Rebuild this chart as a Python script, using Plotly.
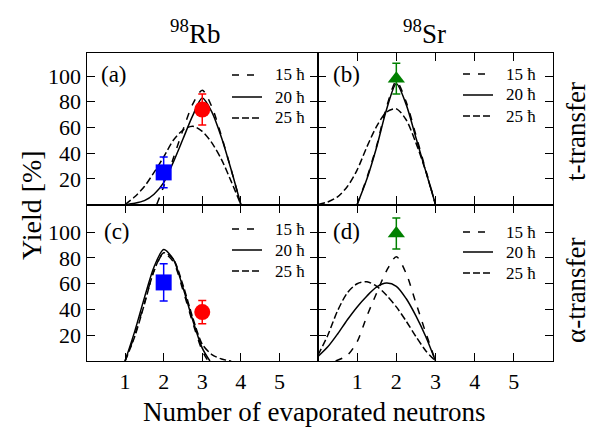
import plotly.graph_objects as go

FONT = "Liberation Serif"
W, H = 595, 430

# ---------------- data ----------------
# Spin labels of the calculated curves
spins = ["15 ħ", "20 ħ", "25 ħ"]

# (a) 98Rb, t-transfer : calculated yields [%] vs number of evaporated neutrons
a_x15 = [1.82, 2.0, 2.25, 2.5, 2.75, 3.0, 3.25, 3.5, 3.75, 4.0]
a_y15 = [0, 14, 36, 58, 78, 89, 76, 53, 27, 0]
a_x20 = [1.0, 1.25, 1.5, 1.75, 2.0, 2.25, 2.5, 2.75, 3.0, 3.25, 3.5, 3.75, 4.0]
a_y20 = [0, 1, 3, 8, 17, 33, 51, 69, 83, 72, 52, 27, 0]
a_x25 = [1.0, 1.25, 1.5, 1.75, 2.0, 2.25, 2.5, 2.75, 3.0, 3.25, 3.5, 3.75, 4.0]
a_y25 = [0, 6, 14, 25, 37, 50, 58, 61, 57, 48, 35, 18, 0]

# (b) 98Sr, t-transfer
b_x15 = [1.0, 1.25, 1.5, 1.75, 2.0, 2.25, 2.5, 2.75, 3.0]
b_y15 = [0, 21, 46, 76, 96, 80, 54, 27, 0]
b_x20 = [1.0, 1.25, 1.5, 1.75, 2.0, 2.25, 2.5, 2.75, 3.0]
b_y20 = [0, 20, 45, 74, 94, 78, 52, 26, 0]
b_x25 = [0.0, 0.25, 0.5, 0.75, 1.0, 1.25, 1.5, 1.75, 2.0, 2.25, 2.5, 2.75, 3.0]
b_y25 = [0, 2, 6, 14, 27, 45, 61, 72, 74.5, 66, 48, 26, 0]

# (c) 98Rb, alpha-transfer
c_x15 = [1.0, 1.25, 1.5, 1.75, 2.0, 2.25, 2.5, 2.75, 3.0, 3.15]
c_y15 = [0, 20, 45, 70, 83.5, 77, 55, 30, 8, 0]
c_x20 = [1.0, 1.25, 1.5, 1.75, 2.0, 2.25, 2.5, 2.75, 3.0, 3.2]
c_y20 = [0, 23, 49, 73, 86.5, 79, 57, 32, 10, 0]
c_x25 = [1.0, 1.25, 1.5, 1.75, 2.0, 2.25, 2.5, 2.75, 3.0, 3.25, 3.5, 3.75]
c_y25 = [0, 19, 44, 70, 84, 79, 59, 34, 13, 5, 1.5, 0]

# (d) 98Sr, alpha-transfer
d_x15 = [0.45, 0.75, 1.0, 1.25, 1.5, 1.75, 2.0, 2.25, 2.5, 2.75, 3.0]
d_y15 = [0, 4.5, 15, 35, 53, 70, 81, 68, 45, 22, 0]
d_x20 = [0.0, 0.25, 0.5, 0.75, 1.0, 1.25, 1.5, 1.75, 2.0, 2.25, 2.5, 2.75, 3.0]
d_y20 = [3.5, 11, 21, 32, 42, 50.5, 57.5, 60.5, 58, 48.5, 35, 19, 0]
d_x25 = [0.0, 0.25, 0.5, 0.75, 1.0, 1.25, 1.5, 1.75, 2.0, 2.25, 2.5, 2.75, 3.0]
d_y25 = [4.5, 20, 39, 53, 60, 61.5, 58, 51, 42, 31, 19, 8, 0]

# Measured yields [%] with uncertainties
rb_t_n = [2, 3]
rb_t_y = [25, 74]
rb_t_err = [12, 12]
sr_t_n = [2]
sr_t_y = [98]
sr_t_err = [12]
rb_a_n = [2, 3]
rb_a_y = [61, 38]
rb_a_err = [14.5, 9]
sr_a_n = [2]
sr_a_y = [99]
sr_a_err = [12]

# ---------------- styling ----------------
DASH = {"15 ħ": "7px,8px", "20 ħ": "solid", "25 ħ": "7px,3px"}
LINE_W = 1.5


def px_x(p):
    return p / W


def px_y(p):
    return 1 - p / H


fig = go.Figure()

panels = [
    ("x", "y", [(a_x15, a_y15), (a_x20, a_y20), (a_x25, a_y25)]),
    ("x2", "y2", [(b_x15, b_y15), (b_x20, b_y20), (b_x25, b_y25)]),
    ("x3", "y3", [(c_x15, c_y15), (c_x20, c_y20), (c_x25, c_y25)]),
    ("x4", "y4", [(d_x15, d_y15), (d_x20, d_y20), (d_x25, d_y25)]),
]

for xa, ya, curves in panels:
    for name, (cx, cy) in zip(spins, curves):
        fig.add_trace(go.Scatter(
            x=cx, y=cy, mode="lines", name=name, showlegend=False,
            line=dict(color="black", width=LINE_W, dash=DASH[name],
                      shape="spline", smoothing=0.8),
            xaxis=xa, yaxis=ya, hoverinfo="skip",
        ))


def add_points(xs, ys, errs, xa, ya, symbol, color, size):
    fig.add_trace(go.Scatter(
        x=xs, y=ys, mode="markers", showlegend=False,
        marker=dict(symbol=symbol, color=color, size=size, line=dict(width=0)),
        error_y=dict(type="data", array=errs, visible=True, color=color,
                     thickness=1.5, width=4),
        xaxis=xa, yaxis=ya, cliponaxis=False,
    ))


# blue square (2n) and red circle (3n) for Rb, green triangle for Sr
add_points(rb_t_n[:1], rb_t_y[:1], rb_t_err[:1], "x", "y", "square", "#0000ff", 16)
add_points(rb_t_n[1:], rb_t_y[1:], rb_t_err[1:], "x", "y", "circle", "#ff0000", 16)
add_points(sr_t_n, sr_t_y, sr_t_err, "x2", "y2", "triangle-up", "#008000", 15)
add_points(rb_a_n[:1], rb_a_y[:1], rb_a_err[:1], "x3", "y3", "square", "#0000ff", 16)
add_points(rb_a_n[1:], rb_a_y[1:], rb_a_err[1:], "x3", "y3", "circle", "#ff0000", 16)
add_points(sr_a_n, sr_a_y, sr_a_err, "x4", "y4", "triangle-up", "#008000", 15)

# ---------------- axes ----------------
X_LEFT = [px_x(86.5), px_x(318)]
X_RIGHT = [px_x(318), px_x(553)]
Y_TOP = [px_y(204.5), px_y(53)]
Y_BOT = [px_y(361), px_y(204.5)]

tick_font = dict(family=FONT, size=22, color="black")
common = dict(showline=True, linecolor="black", linewidth=1.4, ticks="inside",
              ticklen=8, tickwidth=1.4, tickcolor="black", showgrid=False,
              zeroline=False, tickfont=tick_font)
xticks = dict(tickmode="array", tickvals=[1, 2, 3, 4, 5], range=[0, 6])
yticks = dict(tickmode="array", tickvals=[20, 40, 60, 80, 100])

fig.update_layout(
    xaxis=dict(domain=X_LEFT, anchor="y", mirror=True, showticklabels=False,
               **xticks, **common),
    yaxis=dict(domain=Y_TOP, anchor="x", range=[0, 118], mirror="ticks",
               **yticks, **common),
    xaxis2=dict(domain=X_RIGHT, anchor="y2", mirror="ticks", showticklabels=False,
                **xticks, **common),
    yaxis2=dict(domain=Y_TOP, anchor="x2", range=[0, 118], mirror="ticks",
                showticklabels=False, **yticks, **common),
    xaxis3=dict(domain=X_LEFT, anchor="y3", mirror="ticks", **xticks, **common),
    yaxis3=dict(domain=Y_BOT, anchor="x3", range=[0, 121.5], mirror="ticks",
                **yticks, **common),
    xaxis4=dict(domain=X_RIGHT, anchor="y4", mirror="ticks", **xticks, **common),
    yaxis4=dict(domain=Y_BOT, anchor="x4", range=[0, 121.5], mirror="ticks",
                showticklabels=False, **yticks, **common),
    # upper frame of panel (a) carries its own tick marks
    xaxis5=dict(overlaying="x", side="top", anchor="y", range=[0, 6],
                tickmode="array", tickvals=[1.2, 2.4, 3.6, 4.8],
                showticklabels=False, ticks="inside", ticklen=8, tickwidth=1.4,
                tickcolor="black", showline=False, showgrid=False, zeroline=False),
)

# ---------------- per-panel keys (line sample + label) ----------------
shapes = []
annotations = []
ann_font = dict(family=FONT, color="black")
# left edge of line sample, and row centres, in page pixels
key_pos = [
    (232, [75, 97, 118]),
    (463, [74, 95, 116]),
    (232, [229, 250, 271]),
    (463, [232, 252, 273]),
]
for x0, rows in key_pos:
    for name, yc in zip(spins, rows):
        shapes.append(dict(
            type="line", xref="paper", yref="paper",
            x0=px_x(x0), x1=px_x(x0 + 30), y0=px_y(yc), y1=px_y(yc),
            line=dict(color="black", width=LINE_W, dash=DASH[name]),
        ))
        annotations.append(dict(
            text=name, x=px_x(x0 + 41), y=px_y(yc), xanchor="left",
            yanchor="middle", font=dict(size=17, **ann_font),
        ))

# ---------------- text ----------------
annotations += [
    dict(text="(a)", x=px_x(99), y=px_y(75), xanchor="left", yanchor="middle",
         font=dict(size=23, **ann_font)),
    dict(text="(b)", x=px_x(331), y=px_y(75), xanchor="left", yanchor="middle",
         font=dict(size=23, **ann_font)),
    dict(text="(c)", x=px_x(102), y=px_y(231), xanchor="left", yanchor="middle",
         font=dict(size=23, **ann_font)),
    dict(text="(d)", x=px_x(331), y=px_y(231), xanchor="left", yanchor="middle",
         font=dict(size=23, **ann_font)),
    dict(text="<sup>98</sup>Rb", x=px_x(195), y=px_y(32), xanchor="center",
         yanchor="middle", font=dict(size=27, **ann_font)),
    dict(text="<sup>98</sup>Sr", x=px_x(424), y=px_y(32), xanchor="center",
         yanchor="middle", font=dict(size=27, **ann_font)),
    dict(text="Yield [%]", x=px_x(32), y=px_y(205), xanchor="center",
         yanchor="middle", textangle=-90, font=dict(size=28, **ann_font)),
    dict(text="t-transfer", x=px_x(576), y=px_y(132), xanchor="center",
         yanchor="middle", textangle=-90, font=dict(size=27, **ann_font)),
    dict(text="α-transfer", x=px_x(576), y=px_y(290), xanchor="center",
         yanchor="middle", textangle=-90, font=dict(size=27, **ann_font)),
    dict(text="Number of evaporated neutrons", x=px_x(314), y=px_y(412),
         xanchor="center", yanchor="middle", font=dict(size=27, **ann_font)),
]
for a in annotations:
    a.update(xref="paper", yref="paper", showarrow=False)

fig.update_layout(
    annotations=annotations,
    shapes=shapes,
    showlegend=False,
    width=W, height=H,
    margin=dict(l=0, r=0, t=0, b=0),
    paper_bgcolor="white", plot_bgcolor="white",
    font=dict(family=FONT, color="black"),
)

fig.write_html("out.html")
